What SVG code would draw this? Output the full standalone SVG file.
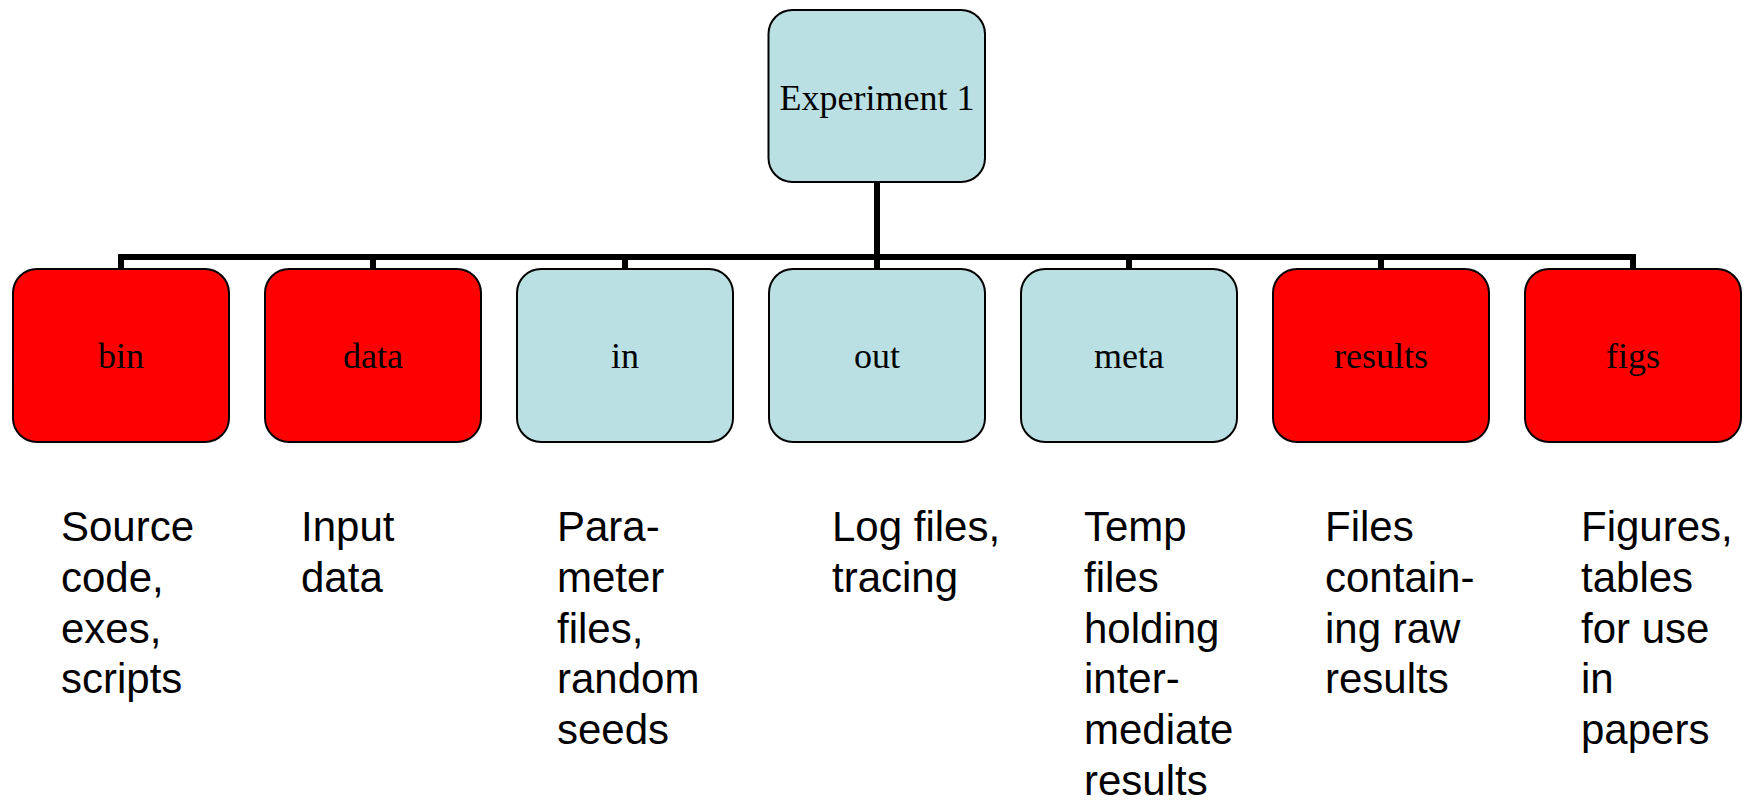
<svg xmlns="http://www.w3.org/2000/svg" width="1747" height="801" viewBox="0 0 1747 801">
<style>
.box{stroke:#000;stroke-width:2}
.red{fill:#FF0000}
.blue{fill:#BAE0E3}
.lbl{font-family:"Liberation Serif","Times New Roman",serif;font-size:36px;fill:#000;text-anchor:middle}
.desc{font-family:"Liberation Sans",Arial,sans-serif;font-size:42px;fill:#000}
.conn{stroke:#000;stroke-width:6;fill:none}
</style>
<rect width="1747" height="801" fill="#fff"/>
<g id="connectors">
<line class="conn" x1="877" y1="182" x2="877" y2="257"/>
<line class="conn" x1="118" y1="257" x2="1636" y2="257"/>
<line class="conn" x1="121" y1="257" x2="121" y2="270"/>
<line class="conn" x1="373" y1="257" x2="373" y2="270"/>
<line class="conn" x1="625" y1="257" x2="625" y2="270"/>
<line class="conn" x1="877" y1="257" x2="877" y2="270"/>
<line class="conn" x1="1129" y1="257" x2="1129" y2="270"/>
<line class="conn" x1="1381" y1="257" x2="1381" y2="270"/>
<line class="conn" x1="1633" y1="257" x2="1633" y2="270"/>
</g>
<g id="experiment1">
<rect class="box blue" x="768.5" y="10" width="216.5" height="172" rx="24"/>
<text class="lbl" x="877" y="110">Experiment 1</text>
</g>
<g id="bin">
<rect class="box red" x="13" y="269" width="216" height="173" rx="24"/>
<text class="lbl" x="121" y="368">bin</text>
</g>
<g id="data">
<rect class="box red" x="265" y="269" width="216" height="173" rx="24"/>
<text class="lbl" x="373" y="368">data</text>
</g>
<g id="in">
<rect class="box blue" x="517" y="269" width="216" height="173" rx="24"/>
<text class="lbl" x="625" y="368">in</text>
</g>
<g id="out">
<rect class="box blue" x="769" y="269" width="216" height="173" rx="24"/>
<text class="lbl" x="877" y="368">out</text>
</g>
<g id="meta">
<rect class="box blue" x="1021" y="269" width="216" height="173" rx="24"/>
<text class="lbl" x="1129" y="368">meta</text>
</g>
<g id="results">
<rect class="box red" x="1273" y="269" width="216" height="173" rx="24"/>
<text class="lbl" x="1381" y="368">results</text>
</g>
<g id="figs">
<rect class="box red" x="1525" y="269" width="216" height="173" rx="24"/>
<text class="lbl" x="1633" y="368">figs</text>
</g>
<g id="descriptions">
<text class="desc" y="541"><tspan x="61">Source</tspan><tspan x="61" dy="50.8">code,</tspan><tspan x="61" dy="50.8">exes,</tspan><tspan x="61" dy="50.8">scripts</tspan></text>
<text class="desc" y="541"><tspan x="301">Input</tspan><tspan x="301" dy="50.8">data</tspan></text>
<text class="desc" y="541"><tspan x="557">Para-</tspan><tspan x="557" dy="50.8">meter</tspan><tspan x="557" dy="50.8">files,</tspan><tspan x="557" dy="50.8">random</tspan><tspan x="557" dy="50.8">seeds</tspan></text>
<text class="desc" y="541"><tspan x="832">Log files,</tspan><tspan x="832" dy="50.8">tracing</tspan></text>
<text class="desc" y="541"><tspan x="1084">Temp</tspan><tspan x="1084" dy="50.8">files</tspan><tspan x="1084" dy="50.8">holding</tspan><tspan x="1084" dy="50.8">inter-</tspan><tspan x="1084" dy="50.8">mediate</tspan><tspan x="1084" dy="50.8">results</tspan></text>
<text class="desc" y="541"><tspan x="1325">Files</tspan><tspan x="1325" dy="50.8">contain-</tspan><tspan x="1325" dy="50.8">ing raw</tspan><tspan x="1325" dy="50.8">results</tspan></text>
<text class="desc" y="541"><tspan x="1581">Figures,</tspan><tspan x="1581" dy="50.8">tables</tspan><tspan x="1581" dy="50.8">for use</tspan><tspan x="1581" dy="50.8">in</tspan><tspan x="1581" dy="50.8">papers</tspan></text>
</g>
</svg>
